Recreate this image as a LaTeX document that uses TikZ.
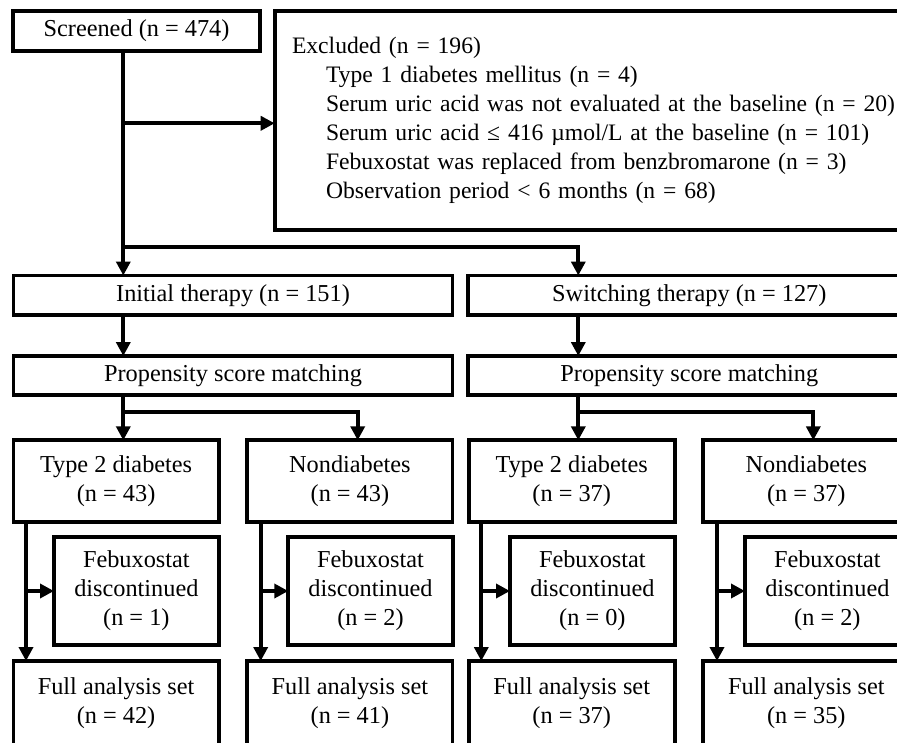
\documentclass[tikz,border=0pt]{standalone}
\usepackage{fontspec}
\setmainfont{Liberation Serif}
\usetikzlibrary{arrows.meta,calc}
\newcommand{\fs}{\fontsize{24.3}{29}\selectfont}
\newcommand{\fsx}{\fontsize{23.6}{29}\selectfont}
\begin{document}
\begin{tikzpicture}[x=1pt,y=-1pt,
  box/.style={draw, line width=3.8pt, inner sep=0pt, outer sep=0pt, anchor=north west, align=center, font=\fs},
  arr/.style={line width=3.8pt, -{Triangle[length=14pt,width=14pt]}}]
\useasboundingbox (0,0) rectangle (897,742);
\clip (0,0) rectangle (897,742);
\fill[white] (0,0) rectangle (897,742);
% nodes
\node[box, minimum width=247pt, minimum height=40pt] (screened) at (13,10.7) {Screened (n = 474)};
\node[box, font=\fsx, minimum width=640pt, minimum height=219pt, inner xsep=17.3pt, text width=660pt, align=left] (excluded) at (274.7,10.7)
 {Excluded (n = 196)\\
  \hspace*{34pt}Type 1 diabetes mellitus (n = 4)\\
  \hspace*{34pt}Serum uric acid was not evaluated at the baseline (n = 20)\\
  \hspace*{34pt}Serum uric acid ≤ 416 µmol/L at the baseline (n = 101)\\
  \hspace*{34pt}Febuxostat was replaced from benzbromarone (n = 3)\\
  \hspace*{34pt}Observation period < 6 months (n = 68)};
\node[box, minimum width=439pt, minimum height=39.5pt] (initial) at (13.5,275.5) {Initial therapy (n = 151)};
\node[box, minimum width=442pt, minimum height=39.5pt] (switching) at (468.3,275.5) {Switching therapy (n = 127)};
\node[box, minimum width=439pt, minimum height=39pt] (propA) at (13.5,356) {Propensity score matching};
\node[box, minimum width=442pt, minimum height=39pt] (propB) at (468.3,356) {Propensity score matching};
\node[box, minimum width=205.2pt, minimum height=81.7pt] (t2dA) at (13.5,440.3) {Type 2 diabetes\\(n = 43)};
\node[box, minimum width=205.2pt, minimum height=81.7pt] (ndA) at (247.3,440.3) {Nondiabetes\\(n = 43)};
\node[box, minimum width=206pt, minimum height=81.7pt] (t2dB) at (468.7,440.3) {Type 2 diabetes\\(n = 37)};
\node[box, minimum width=206pt, minimum height=81.7pt] (ndB) at (703.3,440.3) {Nondiabetes\\(n = 37)};
\node[box, minimum width=164.7pt, minimum height=108pt] (febA1) at (54,537) {Febuxostat\\discontinued\\(n = 1)};
\node[box, minimum width=164.4pt, minimum height=108pt] (febA2) at (288.3,537) {Febuxostat\\discontinued\\(n = 2)};
\node[box, minimum width=164.7pt, minimum height=108pt] (febB1) at (510,537) {Febuxostat\\discontinued\\(n = 0)};
\node[box, minimum width=164.7pt, minimum height=108pt] (febB2) at (745,537) {Febuxostat\\discontinued\\(n = 2)};
\node[box, minimum width=205.2pt, minimum height=84pt] (fullA1) at (13.5,661) {Full analysis set\\(n = 42)};
\node[box, minimum width=205.2pt, minimum height=84pt] (fullA2) at (247.3,661) {Full analysis set\\(n = 41)};
\node[box, minimum width=206pt, minimum height=84pt] (fullB1) at (468.7,661) {Full analysis set\\(n = 37)};
\node[box, minimum width=206pt, minimum height=84pt] (fullB2) at (703.3,661) {Full analysis set\\(n = 35)};
% guide coordinates
\coordinate (tA) at (123.3,0);
\coordinate (tB) at (578.3,0);
\coordinate (sA) at (357.7,0);
\coordinate (sB) at (813.3,0);
\coordinate (bA1) at (26,0);
\coordinate (bA2) at (260.7,0);
\coordinate (bB1) at (481.3,0);
\coordinate (bB2) at (717,0);
\coordinate (yEx) at (0,123.3);
\coordinate (ySw) at (0,246.7);
\coordinate (ySp) at (0,412.3);
\coordinate (yFb) at (0,591);
% connectors
\draw[arr] (tA |- screened.south) -- (tA |- initial.north);
\draw[arr] (tA |- yEx) -- (excluded.west |- yEx);
\draw[arr] (tA |- ySw) -| (tB |- switching.north);
\draw[arr] (tA |- initial.south) -- (tA |- propA.north);
\draw[arr] (tB |- switching.south) -- (tB |- propB.north);
\draw[arr] (tA |- propA.south) -- (tA |- t2dA.north);
\draw[arr] (tA |- ySp) -| (sA |- ndA.north);
\draw[arr] (tB |- propB.south) -- (tB |- t2dB.north);
\draw[arr] (tB |- ySp) -| (sB |- ndB.north);
\draw[arr] (bA1 |- t2dA.south) -- (bA1 |- fullA1.north);
\draw[arr] (bA1 |- yFb) -- (febA1.west |- yFb);
\draw[arr] (bA2 |- ndA.south) -- (bA2 |- fullA2.north);
\draw[arr] (bA2 |- yFb) -- (febA2.west |- yFb);
\draw[arr] (bB1 |- t2dB.south) -- (bB1 |- fullB1.north);
\draw[arr] (bB1 |- yFb) -- (febB1.west |- yFb);
\draw[arr] (bB2 |- ndB.south) -- (bB2 |- fullB2.north);
\draw[arr] (bB2 |- yFb) -- (febB2.west |- yFb);
\end{tikzpicture}
\end{document}
